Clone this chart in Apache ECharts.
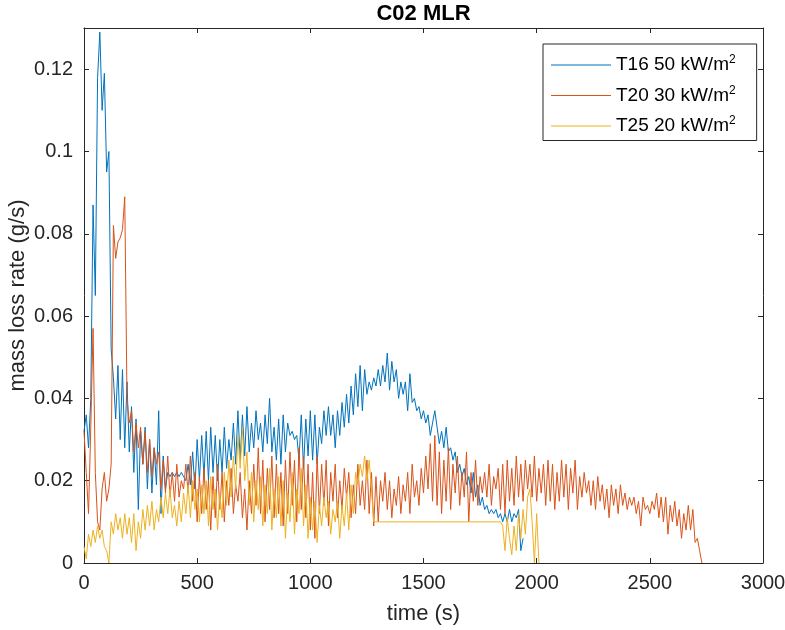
<!DOCTYPE html>
<html>
<head>
<meta charset="utf-8">
<script src="https://cdn.jsdelivr.net/npm/echarts@6/dist/echarts.min.js"></script>
<style>
html,body{margin:0;padding:0;background:#fff;}
#chart{width:785px;height:630px;}
</style>
</head>
<body>
<div id="chart"></div>
<script>
// Series names
const seriesNames = ['T16 50 kW/m²', 'T20 30 kW/m²', 'T25 20 kW/m²'];
// Sampling: time (s) of first sample and step between samples
const stepS = 10;
const t16Start = 0;
const t20Start = 0;
const t25aStart = 0;
const t25bStart = 1840;
// Mass loss rate values in mg/s (converted to g/s below)
const t16 = [32,36,28,40,87,65,118,129,110,119,95,100,52,45,35,48,30,47,28,44,
27,38,22,35,13,32,24,33,18,30,17,28,19,37,12,26,18,22,21,22,
21,22,21,22,21,20,24,19,27,18,30,20,31,21,32,20,33,22,31,20,
30,22,33,23,30,25,34,24,37,25,36,26,38,27,34,28,37,30,34,27,
36,29,40,27,33,25,35,24,36,27,34,31,32,30,31,25,36,23,35,26,
37,25,36,24,33,29,37,31,38,31,36,28,37,31,39,33,41,34,43,36,
46,38,48,37,47,41,44,42,45,43,47,43,48,44,51,42,49,44,47,40,
44,41,44,37,46,39,40,37,38,35,37,34,36,31,34,37,33,29,32,28,
33,27,28,25,27,22,24,21,23,19,21,17,22,16,19,14,16,13,14,12,
13,12,13,11,12,10,12,10,13,10,12,11,13,3,6];
const t20 = [32,22,12,33,57,22,10,8,18,22,15,18,24,82,74,78,79,81,89,
40,34,37,27,34,28,33,24,32,22,30,21,28,24,27,18,25,17,26,16,22,15,24,16,20,18,24,17,26,15,22,
10,21,12,23,13,20,8,21,11,24,13,22,10,20,14,23,12,19,15,22,11,18,8,20,12,24,14,28,12,25,
10,23,13,26,11,24,12,22,9,25,12,27,14,25,10,28,13,26,11,24,8,22,6,26,12,24,14,25,9,22,
15,24,11,20,13,23,16,22,11,19,12,24,14,20,13,25,12,22,9,21,10,20,15,22,13,20,11,18,14,21,
12,19,15,22,12,24,16,20,14,23,17,26,18,29,15,31,14,27,12,25,15,28,13,24,17,26,14,22,16,27,
10,22,15,25,14,21,17,22,16,24,14,21,18,23,13,24,12,25,15,23,14,26,16,24,15,25,18,24,16,26,
15,23,17,24,14,25,15,24,13,22,15,25,16,24,13,23,17,25,13,21,16,22,17,20,14,20,13,21,15,19,
13,18,11,19,14,18,12,19,14,17,13,16,14,16,12,15,9,16,13,14,12,15,13,17,11,16,10,16,7,14,
10,15,9,13,6,12,8,14,8,13,5,6,3,0];
const t25a = [4,1,7,4,8,5,9,6,8,4,3,0,10,7,12,8,11,6,12,7,11,5,12,3,
10,6,13,8,14,9,15,8,13,10,16,11,17,12,18,11,14,9,15,10,17,12,19,11,
20,13,18,10,19,12,20,9,21,13,18,8,17,11,22,14,25,16,26,18,31,23,33,20,
27,14,22,10,20,13,21,9,19,12,23,8,18,11,21,9,20,6,17,10,22,7,18,12,
23,9,19,6,16,8,15,5,14,9,16,11,15,7,13,10,15,6,14,9,17,8,19,12,
22,19,24,21,26,20,25,18,10];
const t25b = [10,9,3,11,6,2,9,3,12,6,13,7,16,18,10,0,12,0];
// Axis ticks
const xTicks = [0, 500, 1000, 1500, 2000, 2500, 3000];
const yTicks = [0, 0.02, 0.04, 0.06, 0.08, 0.1, 0.12];

function toPairs(vals, start) {
  return vals.map((v, i) => [start + i * stepS, v / 1000]);
}
const d16 = toPairs(t16, t16Start);
const d20 = toPairs(t20, t20Start);
const d25 = toPairs(t25a, t25aStart).concat(toPairs(t25b, t25bStart));

const FONT = "'Liberation Sans', Arial, Helvetica, sans-serif";
const AX = '#262626';
const colors = ['#0072BD', '#D95319', '#EDB120'];

const chart = echarts.init(document.getElementById('chart'), null, {renderer: 'canvas'});
const gridPos = {left: 84, right: 22, top: 28, bottom: 67};
const axisCommon = {
  axisLine: {show: true, onZero: false, lineStyle: {color: AX, width: 1}},
  axisTick: {show: true, inside: true, length: 5, lineStyle: {color: AX, width: 1}},
  splitLine: {show: false}
};
chart.setOption({
  animation: false,
  backgroundColor: '#fff',
  color: colors,
  title: {
    text: 'C02 MLR', left: 423.5, top: 3, padding: 0, textAlign: 'center',
    textStyle: {fontFamily: FONT, fontSize: 22, fontWeight: 'bold', color: '#000'}
  },
  grid: Object.assign({show: false, containLabel: false, outerBoundsMode: 'none'}, gridPos),
  legend: {
    orient: 'vertical', left: 543, top: 44,
    itemWidth: 60, itemHeight: 1, icon: 'rect', itemGap: 10,
    padding: [10, 21, 5, 8],
    borderColor: AX, borderWidth: 1, backgroundColor: '#fff',
    data: seriesNames,
    formatter: function (n) { return '{a|' + n.replace('²', '') + '}{s|2}'; },
    textStyle: {
      fontFamily: FONT, color: '#000',
      rich: {
        a: {fontFamily: FONT, fontSize: 19, lineHeight: 22, color: '#000'},
        s: {fontFamily: FONT, fontSize: 12, color: '#000', verticalAlign: 'top'}
      }
    }
  },
  xAxis: [
    Object.assign({}, axisCommon, {
      type: 'value', min: xTicks[0], max: xTicks[xTicks.length - 1], interval: 500,
      position: 'bottom',
      name: 'time (s)', nameLocation: 'middle', nameGap: 40, nameMoveOverlap: false,
      nameTextStyle: {fontFamily: FONT, fontSize: 22, color: AX},
      axisLabel: {fontFamily: FONT, fontSize: 20, color: AX, margin: 10,
        formatter: function (v) { return String(v); }}
    }),
    Object.assign({}, axisCommon, {
      type: 'value', min: xTicks[0], max: xTicks[xTicks.length - 1], interval: 500,
      position: 'top', axisLabel: {show: false}
    })
  ],
  yAxis: [
    Object.assign({}, axisCommon, {
      type: 'value', min: 0, max: 0.13, interval: 0.02,
      position: 'left',
      name: 'mass loss rate (g/s)', nameLocation: 'middle', nameGap: 55, nameMoveOverlap: false,
      nameTextStyle: {fontFamily: FONT, fontSize: 22, color: AX},
      axisLabel: {fontFamily: FONT, fontSize: 20, color: AX, margin: 11, showMaxLabel: false,
        formatter: function (v) { return yTicks.some(t => Math.abs(t - v) < 1e-9) ? String(+v.toFixed(2)) : ''; }}
    }),
    Object.assign({}, axisCommon, {
      type: 'value', min: 0, max: 0.13, interval: 0.02,
      position: 'right', axisLabel: {show: false}
    })
  ],
  series: [
    {name: seriesNames[0], type: 'line', data: d16, showSymbol: false, symbol: 'none',
      lineStyle: {width: 1, color: colors[0]}, clip: true},
    {name: seriesNames[1], type: 'line', data: d20, showSymbol: false, symbol: 'none',
      lineStyle: {width: 1, color: colors[1]}, clip: true},
    {name: seriesNames[2], type: 'line', data: d25, showSymbol: false, symbol: 'none',
      lineStyle: {width: 1, color: colors[2]}, clip: true}
  ]
});
</script>
</body>
</html>
